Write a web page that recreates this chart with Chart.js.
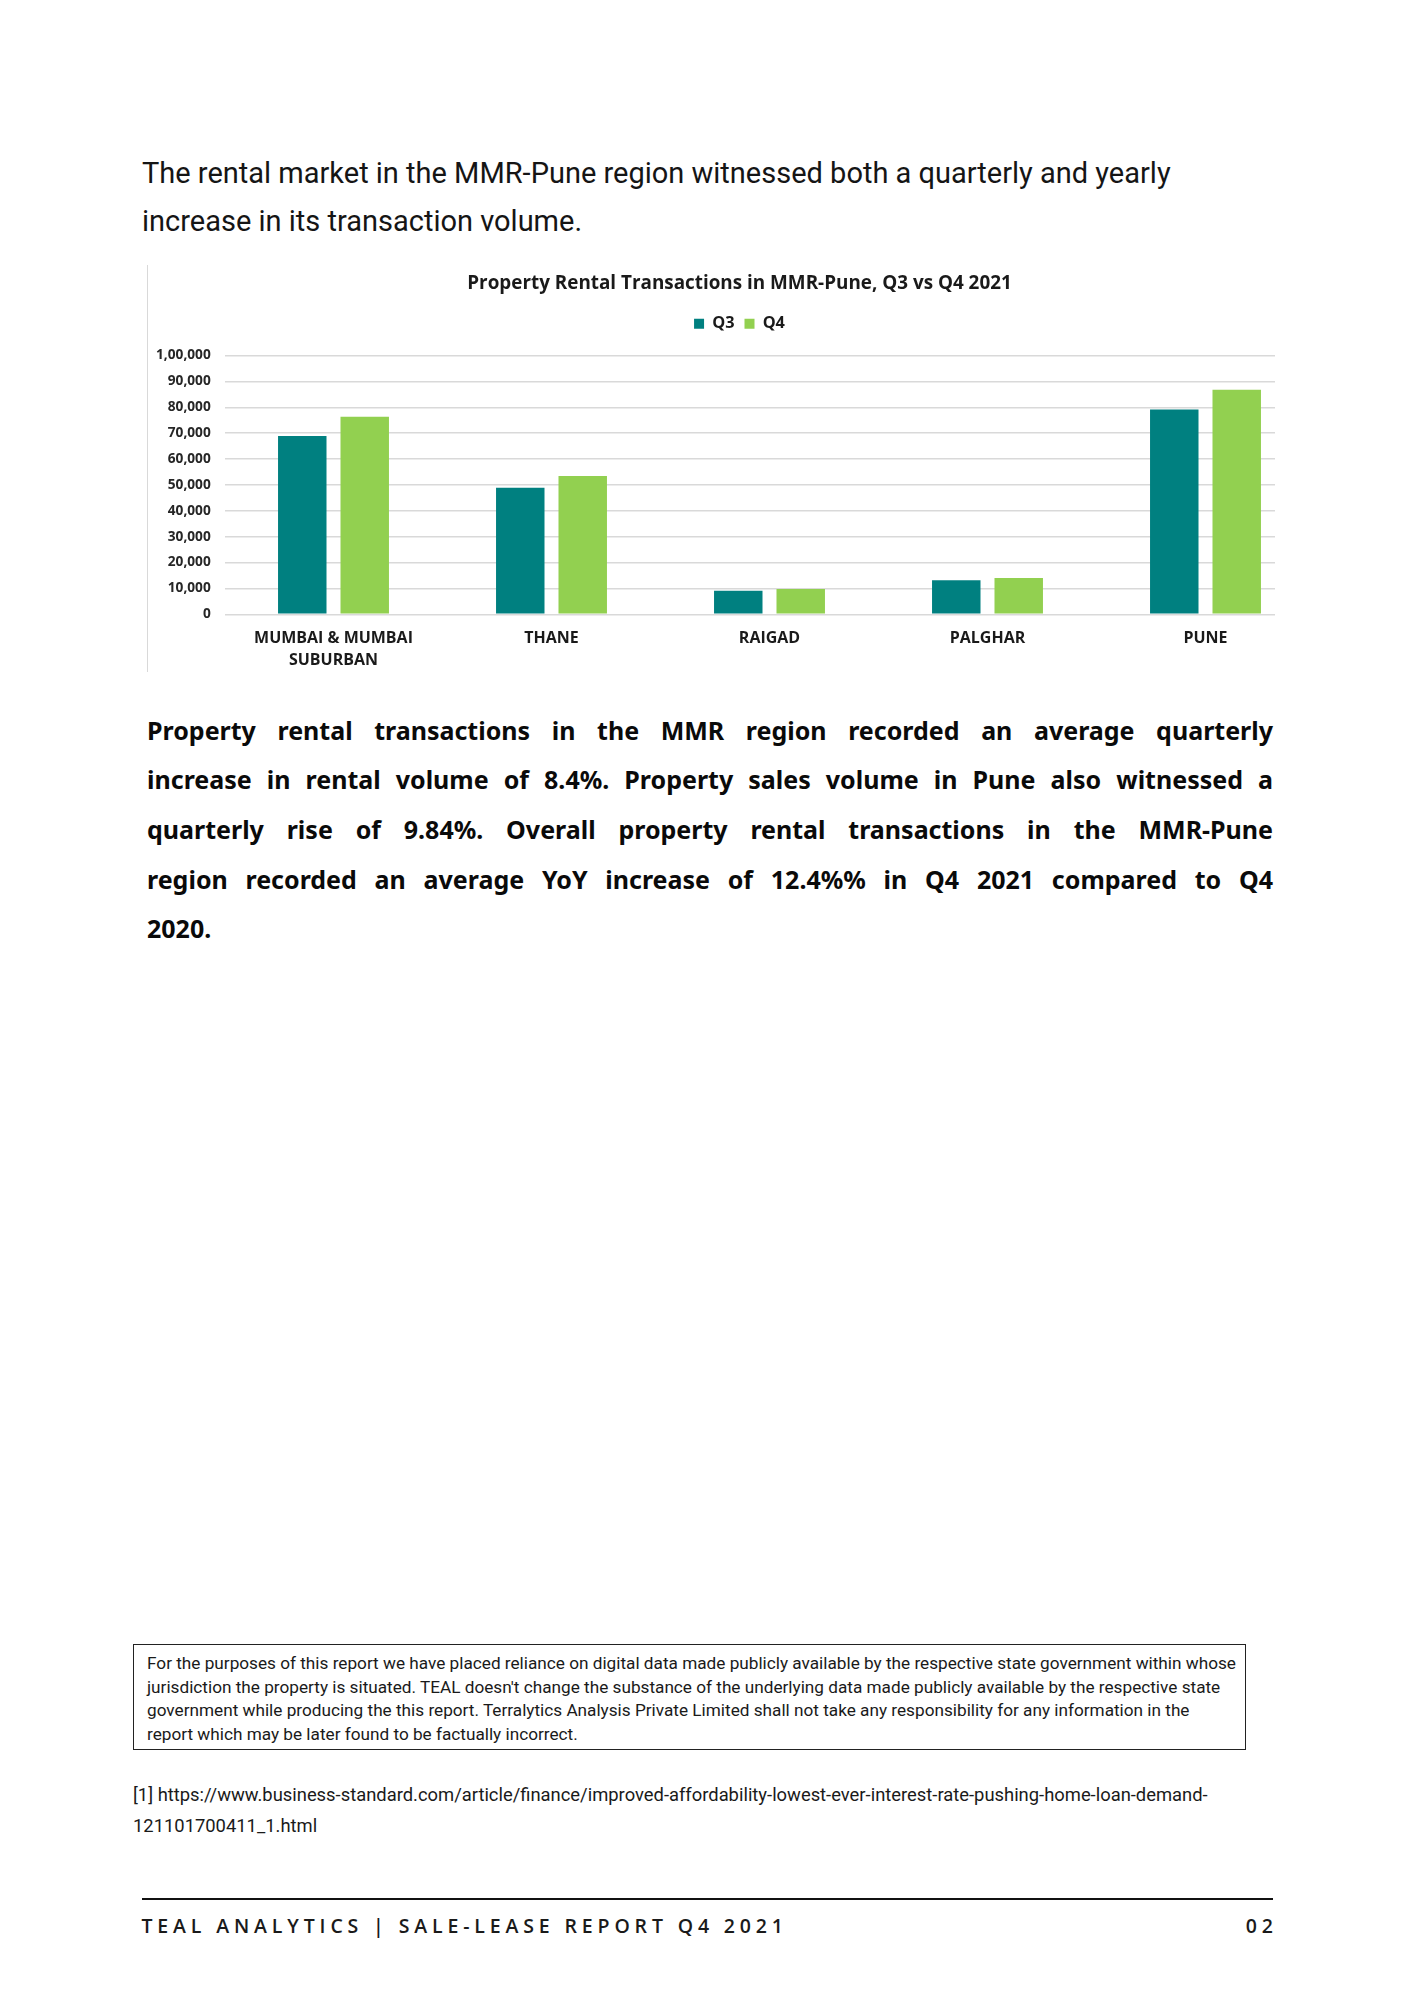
<!DOCTYPE html>
<html>
<head>
<meta charset="utf-8">
<script src="https://cdn.jsdelivr.net/npm/chart.js@4/dist/chart.umd.min.js"></script>
<style>
html,body{margin:0;padding:0;background:#fff;}
body{width:1414px;height:2000px;position:relative;overflow:hidden;}
.t{position:absolute;white-space:nowrap;line-height:1;color:#111;}
.j{text-align:justify;text-align-last:justify;white-space:normal;}
#chartBorder{position:absolute;left:147px;top:265px;width:1px;height:407px;background:#d9d9d9;}
#chartWrap{position:absolute;left:148px;top:265.5px;width:1127px;height:407px;overflow:hidden;}
#box{position:absolute;left:132.5px;top:1643.5px;width:1113.5px;height:106px;border:1.5px solid #222;box-sizing:border-box;}
#rule{position:absolute;left:141.5px;top:1897.5px;width:1131.5px;height:2px;background:#111;}
</style>
</head>
<body>
<div id="chartBorder"></div>
<div id="chartWrap"><canvas id="c" width="1183" height="407"></canvas></div>
<div id="box"></div>
<div id="rule"></div>
<script>
// ---------- data ----------
const categories = [['MUMBAI & MUMBAI', 'SUBURBAN'], 'THANE', 'RAIGAD', 'PALGHAR', 'PUNE'];
const seriesNames = ['Q3', 'Q4'];
const q3Values = [68900, 48900, 9100, 13200, 79100];
const q4Values = [76300, 53400, 9800, 14000, 86800];
const yTickLabels = ['0', '10,000', '20,000', '30,000', '40,000', '50,000', '60,000', '70,000', '80,000', '90,000', '1,00,000'];
const chartTitle = 'Property Rental Transactions in MMR-Pune, Q3 vs Q4 2021';

// ---------- helpers ----------
const mctx = document.createElement('canvas').getContext('2d');
function fitSize(text, weight, family, target) {
  mctx.font = weight + ' 100px ' + family;
  return 100 * target / mctx.measureText(text).width;
}
function natWidth(text, weight, size, family) {
  mctx.font = weight + ' ' + size + 'px ' + family;
  return mctx.measureText(text).width;
}
const BASE = {'Roboto': 0.842, '"Open Sans"': 0.888, '"Noto Sans"': 0.888, '"DejaVu Sans"': 0.879};
function addText(txt, o) {
  const d = document.createElement('div');
  d.className = 't';
  d.textContent = txt;
  const fam = o.family || 'Roboto';
  const w = o.weight || 400;
  const size = o.size;
  d.style.font = w + ' ' + size + 'px ' + fam;
  d.style.lineHeight = '1';
  d.style.left = o.x + 'px';
  d.style.top = (o.base - BASE[fam] * size) + 'px';
  if (o.w) { d.style.width = o.w + 'px'; d.classList.add('j'); }
  if (o.ls) d.style.letterSpacing = o.ls + 'px';
  d.style.color = o.color || '#111';
  document.body.appendChild(d);
}

// ---------- intro paragraph ----------
const intro = ['The rental market in the MMR-Pune region witnessed both a quarterly and yearly',
               'increase in its transaction volume.'];
const introSize = fitSize(intro[0], 400, 'Roboto', 1029);
intro.forEach((s, i) => addText(s, {x: 142, base: 183.3 + i * 48.4, size: introSize, color: '#151515'}));

// ---------- bold paragraph ----------
const boldLines = [
  'Property rental transactions in the MMR region recorded an average quarterly',
  'increase in rental volume of 8.4%. Property sales volume in Pune also witnessed a',
  'quarterly rise of 9.84%. Overall property rental transactions in the MMR-Pune',
  'region recorded an average YoY increase of 12.4%% in Q4 2021 compared to Q4',
  '2020.'
];
const BF = '"Noto Sans"';
const boldSize = Math.min(25, fitSize(boldLines[1], 700, BF, 1116));
boldLines.forEach((s, i) => addText(s, {x: 147, base: 740 + i * 49.6, size: boldSize, weight: 700, family: BF,
  w: i < boldLines.length - 1 ? 1126 : 0, color: '#0a0a0a'}));

// ---------- disclaimer ----------
const disc = [
  'For the purposes of this report we have placed reliance on digital data made publicly available by the respective state government within whose',
  "jurisdiction the property is situated. TEAL doesn't change the substance of the underlying data made publicly available by the respective state",
  'government while producing the this report. Terralytics Analysis Private Limited shall not take any responsibility for any information in the',
  'report which may be later found to be factually incorrect.'
];
const discSize = fitSize(disc[0], 400, 'Roboto', 1090);
disc.forEach((s, i) => addText(s, {x: 147, base: 1669.5 + i * 23.7, size: discSize, color: '#1a1a1a'}));

// ---------- footnote ----------
const foot = ['[1] https://www.business-standard.com/article/finance/improved-affordability-lowest-ever-interest-rate-pushing-home-loan-demand-',
              '121101700411_1.html'];
const footSize = fitSize(foot[0], 400, 'Roboto', 1076);
foot.forEach((s, i) => addText(s, {x: 133, base: 1801 + i * 31.5, size: footSize, color: '#1a1a1a'}));

// ---------- page footer ----------
const footerLeft = 'TEAL ANALYTICS | SALE-LEASE REPORT Q4 2021';
const footerRight = '02';
const FF = '"Open Sans"';
const fSize = 19.5, fW = 600;
const fNat = natWidth(footerLeft, fW, fSize, FF);
const fLs = (641.5 - fNat) / (footerLeft.length - 1);
addText(footerLeft, {x: 141.5, base: 1933.5, size: fSize, weight: fW, family: FF, ls: fLs, color: '#1a1a1a'});
const rNat = natWidth(footerRight, fW, fSize, FF);
addText(footerRight, {x: 1273 - rNat - fLs, base: 1933.5, size: fSize, weight: fW, family: FF, ls: fLs, color: '#1a1a1a'});

// ---------- chart ----------
const CF = '"Open Sans"';
const CFname = 'Open Sans';
const titleSize = fitSize(chartTitle, 'bold', CF, 545);
const tickSize = fitSize('1,00,000', 'bold', CF, 54.7);
const catSize = fitSize('MUMBAI & MUMBAI', 'bold', CF, 159);
const legSize = fitSize('Q3', 'bold', CF, 22.3);

const titleCenter = 17.5, legendCenter = 57.8, plotTop = 89.5;
const legPad = 10;
const titlePadTop = titleCenter - 0.6 * titleSize;
const legendTop = legendCenter - legPad - Math.max(legSize, 10) / 2;
const titlePadBottom = Math.max(0, legendTop - titlePadTop - 1.2 * titleSize);
const legendH = Math.max(legSize, 10) + legPad + 10;
const extraGap = plotTop - (legendTop + legendH);

const legendGap = {
  id: 'legendGap',
  beforeLayout(chart) {
    const lg = chart.legend;
    if (lg && !lg._gapPatched) {
      const f = lg.fit;
      lg.fit = function () { f.call(this); this.height += extraGap; };
      lg._gapPatched = true;
    }
  }
};

new Chart(document.getElementById('c'), {
  type: 'bar',
  data: {
    labels: categories,
    datasets: [
      {label: seriesNames[0], data: q3Values, backgroundColor: '#008080', barPercentage: 0.776, categoryPercentage: 0.573},
      {label: seriesNames[1], data: q4Values, backgroundColor: '#92D050', barPercentage: 0.776, categoryPercentage: 0.573}
    ]
  },
  options: {
    responsive: false,
    animation: false,
    layout: {padding: {left: 16.5, right: 16.5, top: 0, bottom: 0}},
    plugins: {
      title: {
        display: true, text: chartTitle, color: '#1a1a1a',
        font: {family: CFname, size: titleSize, weight: 'bold', lineHeight: 1.2},
        padding: {top: titlePadTop, bottom: titlePadBottom}
      },
      legend: {
        display: true, position: 'top',
        labels: {boxWidth: 10, boxHeight: 10, padding: legPad, color: '#1a1a1a',
                 font: {family: CFname, size: legSize, weight: 'bold'}}
      },
      tooltip: {enabled: false}
    },
    scales: {
      x: {
        grid: {display: false, drawTicks: false},
        border: {display: false},
        ticks: {color: '#1a1a1a', font: {family: CFname, size: catSize, weight: 'bold', lineHeight: 22 / catSize},
                padding: 13.2, maxRotation: 0, autoSkip: false},
        afterFit(s) { s.height = 58.7; }
      },
      y: {
        min: 0, max: 100000,
        grid: {color: '#d9d9d9', lineWidth: 1.5, drawTicks: false},
        border: {display: false},
        ticks: {stepSize: 10000, padding: 13.8, color: '#262626',
                font: {family: CFname, size: tickSize, weight: 'bold'},
                callback: (v) => yTickLabels[Math.round(v / 10000)]},
        afterFit(s) { s.width = 60; s._computeLabelArea = function () { return undefined; }; }
      }
    }
  },
  plugins: [legendGap]
});
</script>
</body>
</html>
